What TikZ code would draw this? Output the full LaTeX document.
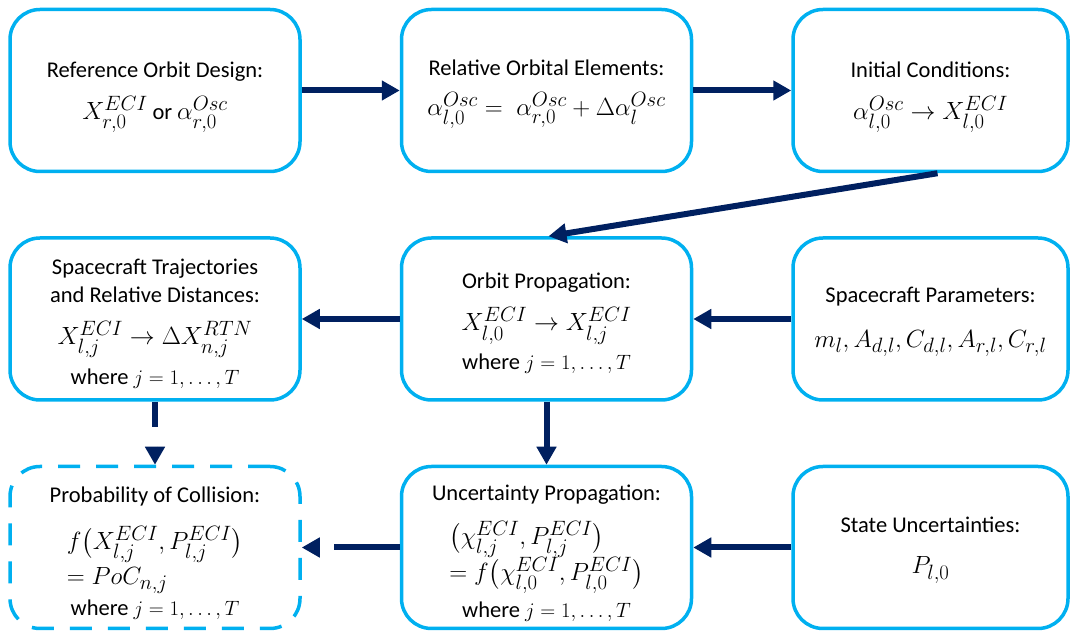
\documentclass[tikz,border=0pt]{standalone}
\usepackage{amsmath}
\usepackage{fontspec}
\setmainfont{Carlito}
\usetikzlibrary{arrows.meta,positioning}
\definecolor{boxblue}{RGB}{0,176,240}
\definecolor{navy}{RGB}{0,32,96}
\newcommand{\fml}{\fontsize{29}{34}\selectfont}
\newcommand{\boxfont}{\fontsize{22.5}{28}\selectfont\lineskiplimit-100pt\relax}
% taller first line, pushes the text block down by #1
\newcommand{\lift}[1]{\rule{0pt}{\dimexpr 17pt+2\dimexpr #1\relax\relax}}
\newlength{\lnw}
% #2 set flush left in a box as wide as #1
\newcommand{\lalign}[2]{\settowidth{\lnw}{#1}\makebox[\lnw][l]{#2}}

\begin{document}
\begin{tikzpicture}[x=1pt,y=1pt,>={Triangle[length=18pt,width=19pt]},node distance=63pt and 98pt,
  blk/.style={draw=boxblue,line width=3.5pt,rounded corners=30pt,minimum width=290pt,minimum height=162pt,
    align=center,inner sep=0pt,font=\boxfont},
  narrow/.style={minimum width=275pt},
  flow/.style={->,draw=navy,line width=6pt},
  dflow/.style={flow,dash pattern=on 25pt off 20pt}]
  \useasboundingbox (0,0) rectangle (1071,634);
  % top row
  \node[blk] (A) at (155,543.5) {\lift{6pt}Reference Orbit Design:\\[14pt]
    {\fml$X_{r,0}^{ECI}$\,{\fontsize{22.5}{28}\selectfont or}\,$\alpha_{r,0}^{Osc}$}};
  \node[blk] (B) [right=of A] {\lift{3pt}Relative Orbital Elements:\\[12pt]
    {\fml$\alpha_{l,0}^{Osc} = \ \alpha_{r,0}^{Osc} + \Delta\alpha_{l}^{Osc}$}};
  \node[blk,narrow] (C) [right=of B] {\lift{6pt}Initial Conditions:\\[14pt]
    {\fml$\alpha_{l,0}^{Osc} \rightarrow X_{l,0}^{ECI}$}};
  % middle row
  \node[blk] (D) [below=of A] {\lift{4pt}Spacecraft Trajectories\\ and Relative Distances:\\[14pt]
    {\fml$X_{l,j}^{ECI} \rightarrow \Delta X_{n,j}^{RTN}$}\\[12pt] where $j = 1, \ldots, T$};
  \node[blk] (E) [below=of B] {\lift{4pt}Orbit Propagation:\\[14pt]
    {\fml$X_{l,0}^{ECI} \rightarrow X_{l,j}^{ECI}$}\\[11pt] where $j = 1, \ldots, T$};
  \node[blk,narrow] (F) [below=of C] {\lift{2pt}Spacecraft Parameters:\\[17pt]
    {\fml$m_l, A_{d,l}, C_{d,l}, A_{r,l}, C_{r,l}$}};
  % bottom row
  \node[blk,dash pattern=on 22pt off 16pt] (G) [below=of D] {\lift{5pt}Probability of Collision:\\[19pt]
    {\fml$f\big(X_{l,j}^{ECI}, P_{l,j}^{ECI}\big)$}\\[7pt]
    {\fml\lalign{$f\big(X_{l,j}^{ECI}, P_{l,j}^{ECI}\big)$}{$= PoC_{n,j}$}}\\[3pt]
    where $j = 1, \ldots, T$};
  \node[blk] (H) [below=of E] {\lift{5pt}Uncertainty Propagation:\\[16pt]
    {\fml\lalign{$= f\big(\chi_{l,0}^{ECI}, P_{l,0}^{ECI}\big)$}{$\big(\chi_{l,j}^{ECI}, P_{l,j}^{ECI}\big)$}}\\[8pt]
    {\fml$= f\big(\chi_{l,0}^{ECI}, P_{l,0}^{ECI}\big)$}\\[9pt]
    where $j = 1, \ldots, T$};
  \node[blk,narrow] (I) [below=of F] {\lift{2pt}State Uncertainties:\\[13pt]
    {\fml$P_{l,0}$}};
  % connectors
  \path (A) edge[flow] (B);
  \path (B) edge[flow] (C);
  \path ([xshift=7pt]C.south) edge[flow] ([xshift=2pt]E.north);
  \path (F) edge[flow] (E);
  \path (E) edge[flow] (D);
  \path (E) edge[flow] (H);
  \path (D) edge[dflow] (G);
  \path (I) edge[flow] (H);
  \path (H) edge[dflow,dash pattern=on 66pt off 30pt] (G);
\end{tikzpicture}
\end{document}
